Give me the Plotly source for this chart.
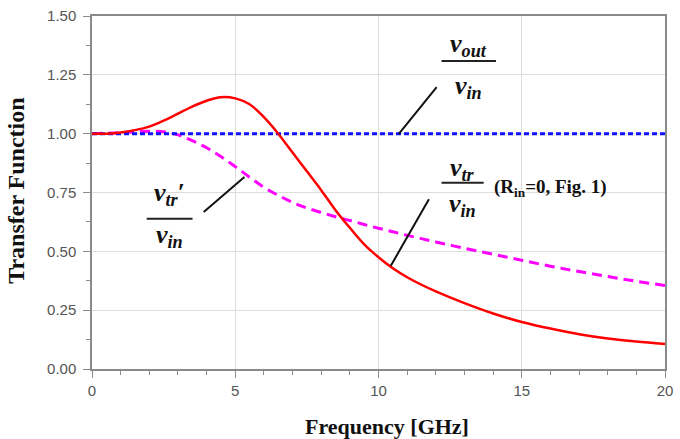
import plotly.graph_objects as go

freq = [0, 0.5, 1, 1.5, 2, 2.5, 3, 3.5, 4, 4.5, 5, 5.5, 6, 6.5, 7, 7.5, 8, 8.5, 9, 9.5, 10, 10.5, 11,
        11.5, 12, 13, 14, 15, 16, 17, 18, 19, 20]
v_tr = [1.0, 1.0, 1.005, 1.015, 1.03, 1.055, 1.085, 1.115, 1.14, 1.155, 1.15, 1.125, 1.07, 1.0, 0.92,
        0.84, 0.76, 0.675, 0.6, 0.53, 0.475, 0.428, 0.39, 0.358, 0.33, 0.28, 0.236, 0.20, 0.172, 0.148,
        0.13, 0.117, 0.106]
v_trp = [1.0, 1.002, 1.004, 1.008, 1.01, 1.008, 0.995, 0.97, 0.94, 0.903, 0.86, 0.815, 0.772, 0.738,
         0.708, 0.684, 0.665, 0.647, 0.631, 0.614, 0.598, 0.583, 0.568, 0.554, 0.54, 0.513, 0.488, 0.462,
         0.437, 0.414, 0.393, 0.373, 0.355]
v_out = [1.0] * len(freq)

xticks = [0, 5, 10, 15, 20]
yticks = [0.0, 0.25, 0.5, 0.75, 1.0, 1.25, 1.5]

fig = go.Figure()
fig.add_trace(go.Scatter(x=freq, y=v_trp, mode="lines",
                         line=dict(color="#ff00ff", width=3, dash="10px,6px", shape="spline", smoothing=1.0)))
fig.add_trace(go.Scatter(x=freq, y=v_out, mode="lines", line=dict(color="#1010ff", width=3, dash="5px,3px")))
fig.add_trace(go.Scatter(x=freq, y=v_tr, mode="lines",
                         line=dict(color="#ff0000", width=2.5, shape="spline", smoothing=1.0)))

FF = "Liberation Serif"
vfont = dict(family=FF, size=26, color="#111")


def frac(xc, y_num, y_bar, y_den, x0, x1, num, den):
    fig.add_annotation(x=xc, y=y_num, text=num, showarrow=False, font=vfont, xanchor="center", yanchor="middle")
    fig.add_annotation(x=xc, y=y_den, text=den, showarrow=False, font=vfont, xanchor="center", yanchor="middle")
    fig.add_shape(type="line", x0=x0, x1=x1, y0=y_bar, y1=y_bar, line=dict(color="#222", width=2))


vin = "<b><i>v<sub>in</sub></i></b>"
frac(13.15, 1.375, 1.309, 1.20, 12.2, 14.1, "<b><i>v<sub>out</sub></i></b>", vin)
frac(2.71, 0.745, 0.638, 0.565, 1.91, 3.51, "<b><i>v<sub>tr</sub></i></b><b>′</b>", vin)
frac(12.93, 0.85, 0.791, 0.698, 12.2, 13.67, "<b><i>v<sub>tr</sub></i></b>", vin)
fig.add_annotation(x=13.95, y=0.771, text="<b>(R<sub>in</sub>=0, Fig. 1)</b>", showarrow=False,
                   font=dict(family=FF, size=19, color="#111"), xanchor="left", yanchor="middle")

for (xa, ya, xb, yb) in [(12.03, 1.198, 10.71, 0.999), (3.90, 0.667, 5.32, 0.816), (11.76, 0.721, 10.43, 0.439)]:
    fig.add_shape(type="line", x0=xa, y0=ya, x1=xb, y1=yb, line=dict(color="#111", width=2))

# axis titles
fig.add_annotation(xref="paper", yref="paper", x=(388 - 92) / 575, y=-(428 - 369) / 362,
                   text="<b>Frequency [GHz]</b>", showarrow=False,
                   font=dict(family=FF, size=22, color="#111"), xanchor="center", yanchor="middle")
fig.add_annotation(xref="paper", yref="paper", x=(15 - 92) / 575, y=(369 - 186) / 362,
                   text="<b>Transfer Function</b>", showarrow=False, textangle=-90,
                   font=dict(family=FF, size=24, color="#111"), xanchor="center", yanchor="middle")

axis_common = dict(showline=True, linecolor="#8a8a8a", linewidth=1.5, mirror=True, ticks="outside",
                   ticklen=7, tickcolor="#8a8a8a", showgrid=True, gridcolor="#dddddd", gridwidth=1,
                   tickfont=dict(family="Liberation Sans", size=15, color="#555"), zeroline=False)

fig.update_xaxes(range=[0, 20], tickvals=xticks, ticktext=[str(t) for t in xticks],
                 minor=dict(dtick=1, ticks="outside", ticklen=4, tickcolor="#8a8a8a", showgrid=False),
                 **axis_common)
fig.update_yaxes(range=[0, 1.5], tickvals=yticks, ticktext=["%.2f" % t for t in yticks],
                 minor=dict(dtick=0.125, tick0=0, ticks="outside", ticklen=4, tickcolor="#8a8a8a", showgrid=False),
                 ticklabelstandoff=4, **axis_common)

fig.update_layout(width=680, height=439, margin=dict(l=92, r=13, t=7, b=70),
                  paper_bgcolor="white", plot_bgcolor="white", showlegend=False)

fig.write_html("out.html")
